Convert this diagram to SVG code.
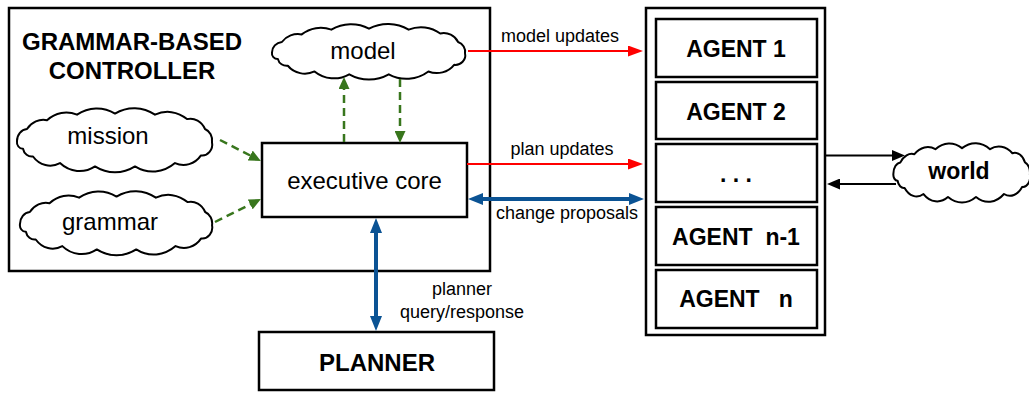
<svg xmlns="http://www.w3.org/2000/svg" width="1029" height="394" viewBox="0 0 1029 394">
  <style>
    .box { fill: #fff; stroke: #000; stroke-width: 2.5; }
    .cloud { fill: #fff; stroke: #000; stroke-width: 2; vector-effect: non-scaling-stroke; stroke-linejoin: round; }
    .lbl { font-family: "Liberation Sans", Arial, sans-serif; font-size: 24px; fill: #000; text-anchor: middle; }
    .bold { font-weight: bold; }
    .small { font-size: 18px; }
    .agent { font-size: 23px; font-weight: bold; }
    .red { stroke: #ff0000; stroke-width: 2; fill: none; }
    .blue { stroke: #0b5394; stroke-width: 4; fill: none; }
    .green { stroke: #38761d; stroke-width: 2.5; fill: none; stroke-dasharray: 8 5; }
    .black { stroke: #000; stroke-width: 2; fill: none; }
  </style>
  <defs>
    <!-- cloud outline drawn in a 200x60 box -->
    <path id="cloud" class="cloud" d="M2,31 A11,11 0 0 1 12,20 A20,20 0 0 1 32,12 A30,30 0 0 1 62,7 A38,38 0 0 1 100,6 A40,40 0 0 1 140,7 A32,32 0 0 1 172,11 A16,16 0 0 1 190,20 A11,11 0 0 1 197,32 A10,10 0 0 1 186,44 A22,22 0 0 1 160,51 A36,36 0 0 1 120,54 A40,40 0 0 1 80,54 A30,30 0 0 1 45,51 A22,22 0 0 1 18,45 A9,9 0 0 1 8,38 A6,6 0 0 1 2,31 Z"/>
    <marker id="ah-red" markerUnits="userSpaceOnUse" markerWidth="15" markerHeight="11" refX="2" refY="5.5" orient="auto">
      <path d="M0,0 L15,5.5 L0,11 Z" fill="#ff0000"/>
    </marker>
    <marker id="ah-blue" markerUnits="userSpaceOnUse" markerWidth="15" markerHeight="12" refX="2" refY="6" orient="auto-start-reverse">
      <path d="M0,0 L15,6 L0,12 Z" fill="#0b5394"/>
    </marker>
    <marker id="ah-green" markerUnits="userSpaceOnUse" markerWidth="12" markerHeight="11" refX="2" refY="5.5" orient="auto">
      <path d="M0,0 L12,5.5 L0,11 Z" fill="#38761d"/>
    </marker>
    <marker id="ah-black" markerUnits="userSpaceOnUse" markerWidth="13" markerHeight="11" refX="2" refY="5.5" orient="auto">
      <path d="M0,0 L13,5.5 L0,11 Z" fill="#000"/>
    </marker>
  </defs>

  <!-- grammar-based controller frame -->
  <g id="controller">
    <rect class="box" x="9" y="8" width="481" height="263"/>
    <text class="lbl bold" x="132" y="50">GRAMMAR-BASED</text>
    <text class="lbl bold" x="132" y="79">CONTROLLER</text>
  </g>

  <g id="model">
    <use href="#cloud" transform="translate(270,23) scale(0.99,0.95)"/>
    <text class="lbl" x="363" y="59">model</text>
  </g>

  <g id="mission">
    <use href="#cloud" transform="translate(15,107) scale(1,1.1)"/>
    <text class="lbl" x="108" y="144">mission</text>
  </g>

  <g id="grammar">
    <use href="#cloud" transform="translate(18,190) scale(0.985,1.1)"/>
    <text class="lbl" x="110" y="230">grammar</text>
  </g>

  <g id="executive-core">
    <rect class="box" x="262" y="143" width="205" height="74"/>
    <text class="lbl" x="364.5" y="189">executive core</text>
  </g>

  <g id="planner">
    <rect class="box" x="259" y="332" width="235" height="58"/>
    <text class="lbl bold" x="377" y="371">PLANNER</text>
  </g>

  <!-- agent stack -->
  <g id="agents">
    <rect class="box" x="646" y="8" width="179" height="327"/>
  </g>
  <g id="agent-1">
    <rect class="box" x="656" y="19" width="161" height="58"/>
    <text class="lbl agent" x="736" y="57">AGENT 1</text>
  </g>
  <g id="agent-2">
    <rect class="box" x="656" y="82" width="161" height="57"/>
    <text class="lbl agent" x="736" y="119.5">AGENT 2</text>
  </g>
  <g id="agent-dots">
    <rect class="box" x="656" y="144" width="161" height="58"/>
    <text class="lbl agent" x="736" y="182" xml:space="preserve">. . .</text>
  </g>
  <g id="agent-n-1">
    <rect class="box" x="656" y="207" width="161" height="58"/>
    <text class="lbl agent" x="736" y="245" xml:space="preserve" style="white-space:pre">AGENT  n-1</text>
  </g>
  <g id="agent-n">
    <rect class="box" x="656" y="270" width="161" height="58"/>
    <text class="lbl agent" x="736" y="307" xml:space="preserve" style="white-space:pre">AGENT   n</text>
  </g>

  <g id="world">
    <use href="#cloud" transform="translate(892,142) scale(0.7,1.02)"/>
    <text class="lbl bold" x="959" y="179" style="font-size:23px">world</text>
  </g>

  <!-- connectors -->
  <g id="connectors">
    <line class="red" x1="468" y1="51" x2="630" y2="51" marker-end="url(#ah-red)"/>
    <line class="red" x1="467" y1="164" x2="630" y2="164" marker-end="url(#ah-red)"/>
    <line class="blue" x1="481" y1="199" x2="631" y2="199" marker-start="url(#ah-blue)" marker-end="url(#ah-blue)"/>
    <line class="blue" x1="376" y1="231" x2="376" y2="318" marker-start="url(#ah-blue)" marker-end="url(#ah-blue)"/>
    <line class="green" x1="344" y1="142" x2="344" y2="87" marker-end="url(#ah-green)"/>
    <line class="green" x1="400" y1="79" x2="400" y2="133" marker-end="url(#ah-green)"/>
    <line class="green" x1="220" y1="140" x2="252" y2="156.4" marker-end="url(#ah-green)"/>
    <line class="green" x1="215" y1="222" x2="252" y2="203.5" marker-end="url(#ah-green)"/>
    <line class="black" x1="826" y1="155.5" x2="894" y2="155.5" marker-end="url(#ah-black)"/>
    <line class="black" x1="896" y1="184" x2="838" y2="184" marker-end="url(#ah-black)"/>
    <text class="lbl small" x="560" y="42">model updates</text>
    <text class="lbl small" x="562" y="155">plan updates</text>
    <text class="lbl small" x="567" y="219">change proposals</text>
    <text class="lbl small" x="462" y="295">planner</text>
    <text class="lbl small" x="462" y="318">query/response</text>
  </g>
</svg>
